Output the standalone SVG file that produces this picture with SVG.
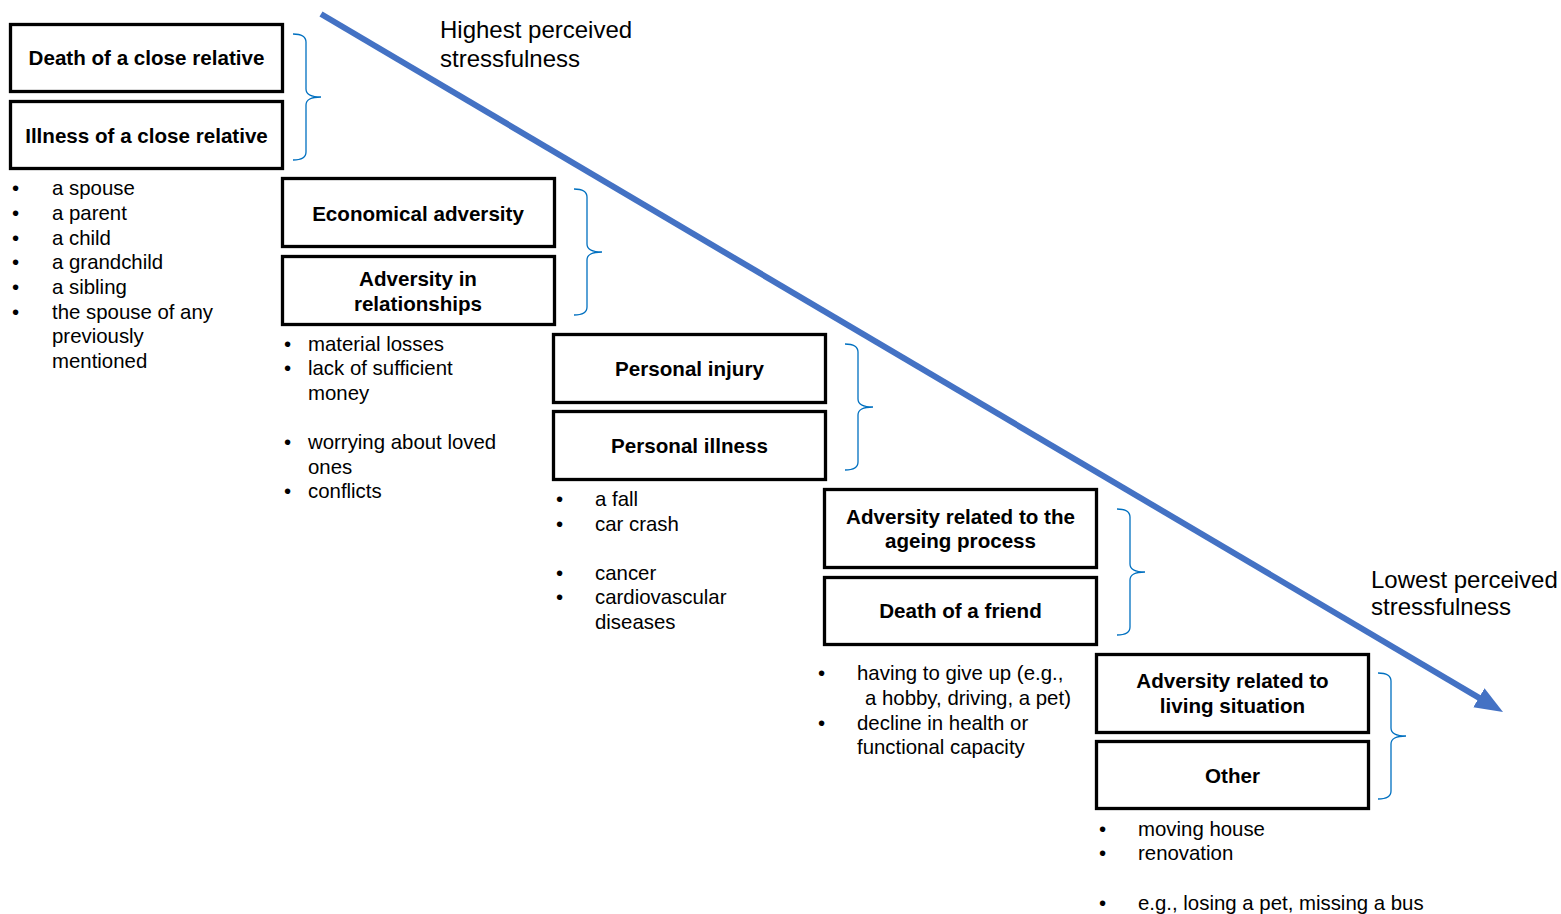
<svg xmlns="http://www.w3.org/2000/svg" xmlns:xlink="http://www.w3.org/1999/xlink" width="1561" height="914" viewBox="0 0 1561 914">
<style>
.box{fill:#fff;stroke:#000;stroke-width:3.3}
.bt{font-family:"Liberation Sans",Arial,sans-serif;font-size:20.6px;font-weight:bold;fill:#000;text-anchor:middle}
.tx{font-family:"Liberation Sans",Arial,sans-serif;font-size:20.4px;fill:#000}
.big{font-family:"Liberation Sans",Arial,sans-serif;font-size:24px;fill:#000}
.brace{fill:none;stroke:#0070C0;stroke-width:1.3}
</style>
<defs>
<path id="brace" d="M0,0 Q13,0 13,8 L13,55 Q13,63 28,63 Q13,63 13,71 L13,118 Q13,126 0,126"/>
<marker id="ah" markerUnits="userSpaceOnUse" markerWidth="30" markerHeight="24" refX="18" refY="11" orient="auto">
<path d="M0,0 L28,11 L0,22 Z" fill="#4472C4"/>
</marker>
</defs>
<g id="connectors">
<line x1="321" y1="14" x2="1494.4" y2="706.9" stroke="#4472C4" stroke-width="6" marker-end="url(#ah)"/>
<use xlink:href="#brace" href="#brace" class="brace" x="293" y="34"/>
<use xlink:href="#brace" href="#brace" class="brace" x="574" y="189"/>
<use xlink:href="#brace" href="#brace" class="brace" x="845" y="344"/>
<use xlink:href="#brace" href="#brace" class="brace" x="1117" y="509"/>
<use xlink:href="#brace" href="#brace" class="brace" x="1378" y="673"/>
</g>
<g id="n-death-relative"><rect class="box" x="10.5" y="24.5" width="272" height="67"/><text class="bt" x="146.5" y="65">Death of a close relative</text></g>
<g id="n-illness-relative"><rect class="box" x="10.5" y="101.5" width="272" height="67"/><text class="bt" x="146.5" y="143">Illness of a close relative</text></g>
<g id="n-economical"><rect class="box" x="282.5" y="178.5" width="272" height="68"/><text class="bt" x="418" y="221">Economical adversity</text></g>
<g id="n-relationships"><rect class="box" x="282.5" y="256.5" width="272" height="68"/><text class="bt" x="418" y="286">Adversity in</text><text class="bt" x="418" y="311">relationships</text></g>
<g id="n-injury"><rect class="box" x="553.5" y="334.5" width="272" height="68"/><text class="bt" x="689.5" y="376">Personal injury</text></g>
<g id="n-illness"><rect class="box" x="553.5" y="411.5" width="272" height="68"/><text class="bt" x="689.5" y="453">Personal illness</text></g>
<g id="n-ageing"><rect class="box" x="824.5" y="489.5" width="272" height="78"/><text class="bt" x="960.5" y="524">Adversity related to the</text><text class="bt" x="960.5" y="548">ageing process</text></g>
<g id="n-friend"><rect class="box" x="824.5" y="577.5" width="272" height="67"/><text class="bt" x="960.5" y="618">Death of a friend</text></g>
<g id="n-living"><rect class="box" x="1096.5" y="654.5" width="272" height="78"/><text class="bt" x="1232.5" y="688">Adversity related to</text><text class="bt" x="1232.5" y="713">living situation</text></g>
<g id="n-other"><rect class="box" x="1096.5" y="741.5" width="272" height="67"/><text class="bt" x="1232.5" y="783">Other</text></g>
<g id="labels">
<text class="big" x="440" y="38">Highest perceived</text>
<text class="big" x="440" y="67">stressfulness</text>
<text class="big" x="1371" y="588">Lowest perceived</text>
<text class="big" x="1371" y="615">stressfulness</text>
</g>
<g id="list1">
<text class="tx" x="12" y="195">•</text><text class="tx" x="52" y="195">a spouse</text>
<text class="tx" x="12" y="220">•</text><text class="tx" x="52" y="220">a parent</text>
<text class="tx" x="12" y="245">•</text><text class="tx" x="52" y="245">a child</text>
<text class="tx" x="12" y="269">•</text><text class="tx" x="52" y="269">a grandchild</text>
<text class="tx" x="12" y="294">•</text><text class="tx" x="52" y="294">a sibling</text>
<text class="tx" x="12" y="319">•</text><text class="tx" x="52" y="319">the spouse of any</text>
<text class="tx" x="52" y="343">previously</text>
<text class="tx" x="52" y="368">mentioned</text>
</g>
<g id="list2">
<text class="tx" x="284" y="351">•</text><text class="tx" x="308" y="351">material losses</text>
<text class="tx" x="284" y="375">•</text><text class="tx" x="308" y="375">lack of sufficient</text>
<text class="tx" x="308" y="400">money</text>
<text class="tx" x="284" y="449">•</text><text class="tx" x="308" y="449">worrying about loved</text>
<text class="tx" x="308" y="474">ones</text>
<text class="tx" x="284" y="498">•</text><text class="tx" x="308" y="498">conflicts</text>
</g>
<g id="list3">
<text class="tx" x="556" y="506">•</text><text class="tx" x="595" y="506">a fall</text>
<text class="tx" x="556" y="531">•</text><text class="tx" x="595" y="531">car crash</text>
<text class="tx" x="556" y="580">•</text><text class="tx" x="595" y="580">cancer</text>
<text class="tx" x="556" y="604">•</text><text class="tx" x="595" y="604">cardiovascular</text>
<text class="tx" x="595" y="629">diseases</text>
</g>
<g id="list4">
<text class="tx" x="818" y="680">•</text><text class="tx" x="857" y="680">having to give up (e.g.,</text>
<text class="tx" x="865" y="705">a hobby, driving, a pet)</text>
<text class="tx" x="818" y="730">•</text><text class="tx" x="857" y="730">decline in health or</text>
<text class="tx" x="857" y="754">functional capacity</text>
</g>
<g id="list5">
<text class="tx" x="1099" y="836">•</text><text class="tx" x="1138" y="836">moving house</text>
<text class="tx" x="1099" y="860">•</text><text class="tx" x="1138" y="860">renovation</text>
<text class="tx" x="1099" y="910">•</text><text class="tx" x="1138" y="910">e.g., losing a pet, missing a bus</text>
</g>
</svg>
